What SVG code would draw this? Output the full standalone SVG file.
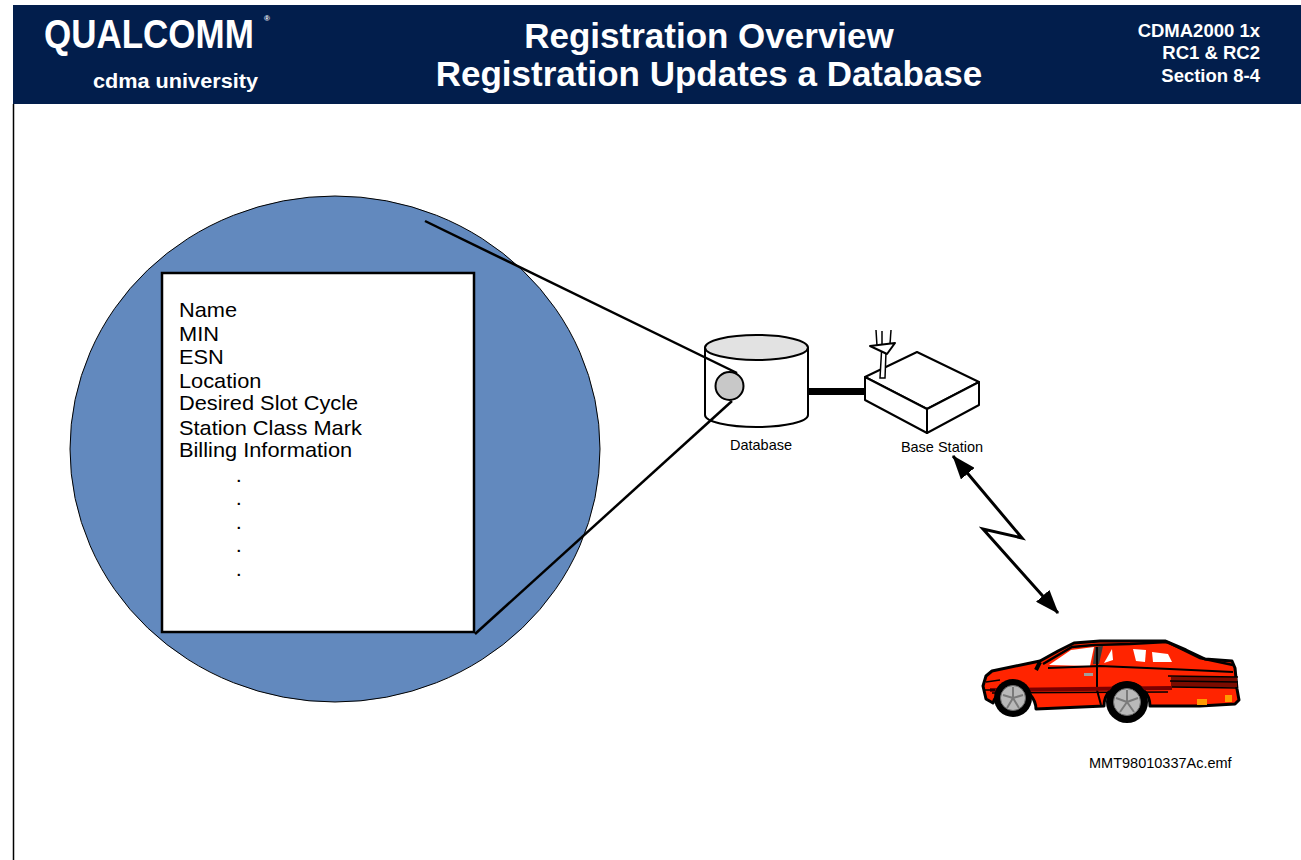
<svg xmlns="http://www.w3.org/2000/svg" width="1301" height="860" viewBox="0 0 1301 860">
  <defs>
    <style>
      .hdr { fill: #ffffff; font-family: "Liberation Sans", Arial, sans-serif; font-weight: bold; }
      .lbl { fill: #000000; font-family: "Liberation Sans", Arial, sans-serif; }
      .ln { stroke: #000000; fill: none; }
      .wheel { fill: #000000; }
      .rim { fill: #b9b9b9; stroke: #6a6a6a; stroke-width: 1; }
    </style>
    <marker id="bolt-head" viewBox="0 0 24 18" markerWidth="24" markerHeight="18" refX="23" refY="9" orient="auto-start-reverse" markerUnits="userSpaceOnUse">
      <path d="M0,0 L24,9 L0,18 z" fill="#000000"/>
    </marker>
  </defs>

  <rect x="0" y="0" width="1301" height="860" fill="#ffffff"/>

  <!-- title band -->
  <g id="header">
    <rect x="13" y="5" width="1288" height="99" fill="#021e4c"/>
    <text class="hdr" x="44" y="48" font-size="35" transform="translate(0,48) scale(1,1.18) translate(0,-48)">QUALCOMM</text>
    <text class="hdr" x="264" y="21" font-size="8" font-weight="normal">®</text>
    <text class="hdr" x="93" y="88" font-size="20" textLength="165" lengthAdjust="spacingAndGlyphs">cdma university</text>
    <text class="hdr" x="709" y="48" font-size="35" text-anchor="middle">Registration Overview</text>
    <text class="hdr" x="709" y="86" font-size="35" text-anchor="middle">Registration Updates a Database</text>
    <text class="hdr" x="1260" y="37" font-size="18.5" text-anchor="end">CDMA2000 1x</text>
    <text class="hdr" x="1260" y="59" font-size="18.5" text-anchor="end">RC1 &amp; RC2</text>
    <text class="hdr" x="1260" y="82" font-size="18.5" text-anchor="end">Section 8-4</text>
  </g>
  <line x1="13.5" y1="104" x2="13.5" y2="860" stroke="#000000" stroke-width="1.5"/>

  <!-- magnified record -->
  <g id="record">
    <ellipse cx="335" cy="449" rx="265" ry="253" fill="#6289be" stroke="#000000" stroke-width="1"/>
    <rect x="162" y="273" width="312" height="359" fill="#ffffff" stroke="#000000" stroke-width="2.5"/>
    <g class="lbl" font-size="20" transform="translate(179,0) scale(1.09,1) translate(-179,0)">
      <text x="179" y="317">Name</text>
      <text x="179" y="341">MIN</text>
      <text x="179" y="364">ESN</text>
      <text x="179" y="388">Location</text>
      <text x="179" y="410">Desired Slot Cycle</text>
      <text x="179" y="435">Station Class Mark</text>
      <text x="179" y="457">Billing Information</text>
      <text x="231" y="482">.</text>
      <text x="231" y="505">.</text>
      <text x="231" y="529">.</text>
      <text x="231" y="552">.</text>
      <text x="231" y="576">.</text>
    </g>
  </g>

  <!-- database -->
  <g id="database">
    <path d="M705,347 L705,415 A51.5,12 0 0 0 808,415 L808,347" fill="#ffffff" stroke="#000000" stroke-width="2"/>
    <ellipse cx="756.5" cy="347.5" rx="51.5" ry="12.5" fill="#e2e2e2" stroke="#000000" stroke-width="2"/>
    <circle cx="729.5" cy="386" r="14" fill="#c8c8c8" stroke="#000000" stroke-width="2"/>
    <text class="lbl" x="761" y="450" font-size="14.5" text-anchor="middle">Database</text>
  </g>

  <!-- base station -->
  <g id="base-station">
    <polygon points="865,377 917,352 979,382 927,409" fill="#ffffff" stroke="#000000" stroke-width="2" stroke-linejoin="round"/>
    <polygon points="865,377 927,409 927,433 865,400" fill="#ffffff" stroke="#000000" stroke-width="2" stroke-linejoin="round"/>
    <polygon points="927,409 979,382 979,405 927,433" fill="#ffffff" stroke="#000000" stroke-width="2" stroke-linejoin="round"/>
    <path d="M880,378 L881.5,352 L886,352 L885,378 Z" fill="#ffffff" stroke="#000000" stroke-width="1.5"/>
    <polygon points="870,346 895,343 887,354" fill="#ffffff" stroke="#000000" stroke-width="2" stroke-linejoin="round"/>
    <line class="ln" x1="877" y1="346" x2="876" y2="330" stroke-width="1.5"/>
    <line class="ln" x1="882" y1="345" x2="882" y2="331" stroke-width="1.5"/>
    <line class="ln" x1="890" y1="344" x2="891" y2="330" stroke-width="1.5"/>
    <text class="lbl" x="942" y="452" font-size="14.5" text-anchor="middle">Base Station</text>
  </g>

  <!-- mobile -->
  <g id="car">
    <path d="M986,699 L983,686 L986,676 L992,671 L1040,661 L1058,651 L1074,643 L1100,641 L1165,641 L1186,650 L1205,659 L1232,661 L1235,668 L1237,689 L1239,700 L1235,704 L1200,706 L1150,706 A23,23 0 0 0 1104,706 L1036,709 A22,22 0 0 0 993,703 Z" fill="#ff2400" stroke="#000000" stroke-width="3" stroke-linejoin="round"/>
    <!-- glass -->
    <polygon points="1049,665 1071,650 1094,647 1090,666" fill="#ffffff"/>
    <polygon points="1104,663 1112,649 1113,660" fill="#ffffff"/>
    <polygon points="1133,649 1146,650 1145,662 1136,661" fill="#ffffff"/>
    <polygon points="1152,652 1168,654 1172,662 1153,662" fill="#ffffff"/>
    <path d="M1095,647 L1103,646 L1099,664 L1093,664 Z" fill="#3a3a3a"/>
    <path d="M1043,664 L1072,647 L1094,645 L1130,644 L1167,642 L1200,658 L1233,665" class="ln" stroke-width="2.5"/>
    <path d="M1048,668 L1100,666 L1170,669 L1233,672" class="ln" stroke-width="2"/>
    <!-- door, stripes, lamps -->
    <path d="M1097,647 L1097,690 L1101,705" class="ln" stroke-width="2"/>
    <rect x="1084" y="673" width="9" height="3" fill="#9e9e9e"/>
    <path d="M990,690 L1172,688" stroke="#7a0000" stroke-width="4"/>
    <path d="M992,693 L1168,692" class="ln" stroke-width="1.5"/>
    <path d="M1040,662 L1036,670" class="ln" stroke-width="4"/>
    <rect x="1171" y="677" width="66" height="10" fill="#7a0c00"/>
    <path d="M1168,676 L1238,677 M1170,681 L1238,682 M1172,687 L1237,688" class="ln" stroke-width="1.5"/>
    <rect x="1197" y="699" width="10" height="6" fill="#ff9a00"/>
    <rect x="1225" y="695" width="7" height="7" fill="#ff9a00"/>
    <path d="M986,682 L1000,680 M984,690 L995,690" class="ln" stroke-width="1.5"/>
    <!-- wheels -->
    <circle class="wheel" cx="1013" cy="698" r="19"/>
    <circle class="rim" cx="1013" cy="698" r="12.5"/>
    <path d="M1013,698 L1013,687 M1013,698 L1023,695 M1013,698 L1019,708 M1013,698 L1007,708 M1013,698 L1003,695" stroke="#7a7a7a" stroke-width="2"/>
    <circle class="wheel" cx="1127" cy="702" r="21"/>
    <circle class="rim" cx="1127" cy="702" r="13.5"/>
    <path d="M1127,702 L1127,690 M1127,702 L1138,698 M1127,702 L1134,712 M1127,702 L1120,712 M1127,702 L1116,698" stroke="#7a7a7a" stroke-width="2"/>
  </g>

  <text id="caption" class="lbl" x="1089" y="768" font-size="14.5">MMT98010337Ac.emf</text>

  <!-- connectors -->
  <g id="connectors">
    <line class="ln" x1="425" y1="221" x2="737" y2="373" stroke-width="2.5"/>
    <line class="ln" x1="475" y1="634" x2="732" y2="401" stroke-width="2.5"/>
    <line class="ln" x1="808" y1="391.5" x2="865" y2="391.5" stroke-width="7"/>
    <path class="ln" d="M953,456 L1022,538 L983,529 L1058,613" stroke-width="3" stroke-linejoin="miter" marker-start="url(#bolt-head)" marker-end="url(#bolt-head)"/>
  </g>
</svg>
